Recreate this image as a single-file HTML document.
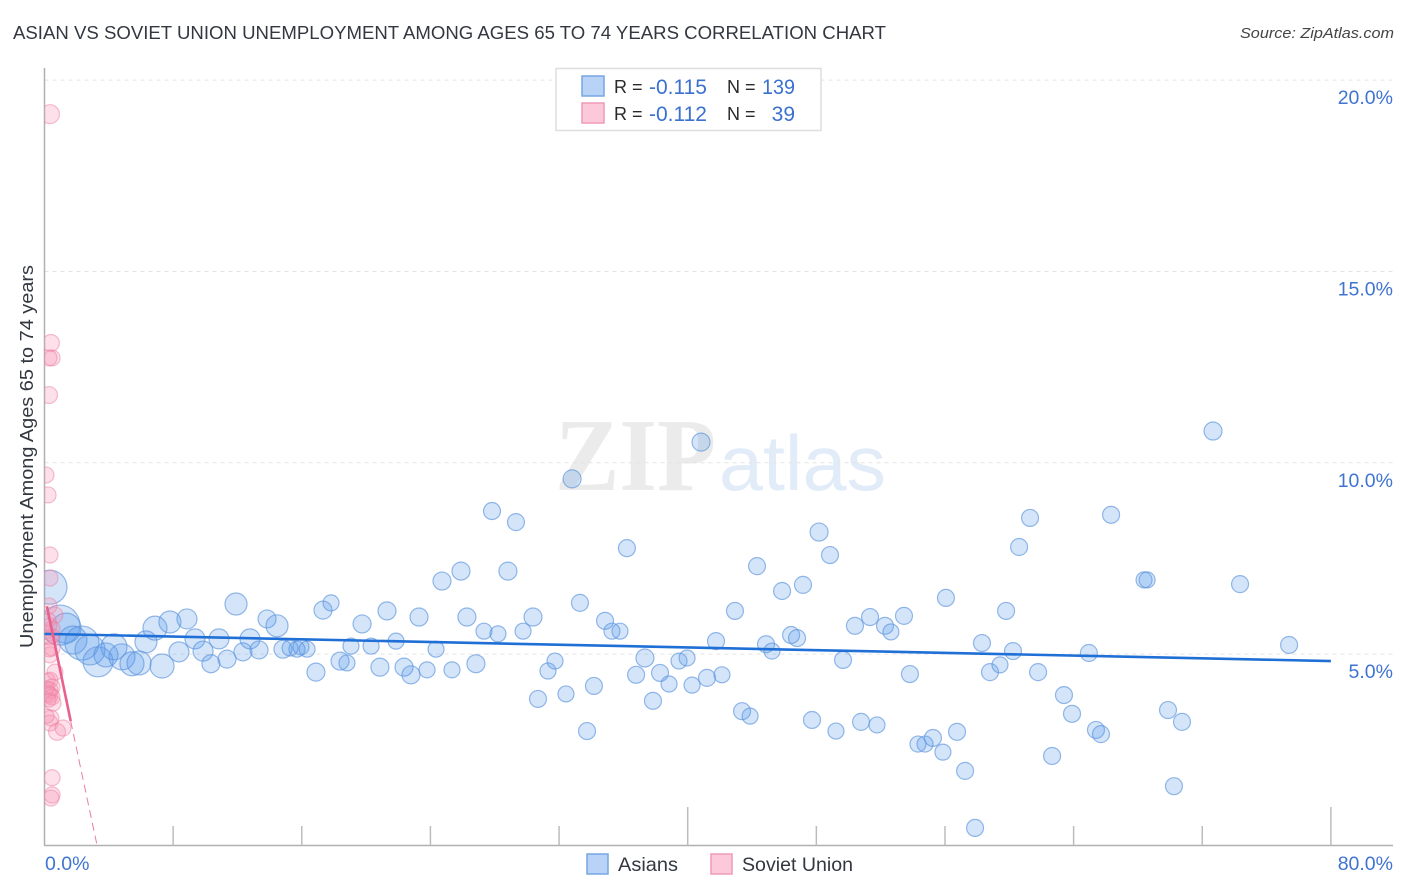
<!DOCTYPE html>
<html lang="en">
<head>
<meta charset="utf-8">
<title>Asian vs Soviet Union Unemployment Correlation Chart</title>
<style>
html,body{margin:0;padding:0;background:#fff;}
svg{display:block;font-family:"Liberation Sans",sans-serif;}
</style>
</head>
<body>
<svg id="chart" width="1406" height="892" viewBox="0 0 1406 892" xmlns="http://www.w3.org/2000/svg">
  <defs><clipPath id="plot-clip"><rect x="44.5" y="60" width="1349" height="785.5"/></clipPath></defs>
  <text x="13" y="39" font-size="18.5" fill="#333840" textLength="873" lengthAdjust="spacingAndGlyphs">ASIAN VS SOVIET UNION UNEMPLOYMENT AMONG AGES 65 TO 74 YEARS CORRELATION CHART</text>
  <text x="1394" y="38" font-size="15" font-style="italic" fill="#444" text-anchor="end" textLength="154" lengthAdjust="spacingAndGlyphs">Source: ZipAtlas.com</text>
  <g>
    <text x="555" y="490" font-family="'Liberation Serif',serif" font-weight="bold" font-size="104" fill="#ebebeb" textLength="161" lengthAdjust="spacingAndGlyphs">ZIP</text>
    <text x="719" y="490" font-size="78" fill="#e2ecf9" textLength="167" lengthAdjust="spacingAndGlyphs">atlas</text>
  </g>
  <g id="grid"></g>
  <g id="axes"></g>
  <g id="points" clip-path="url(#plot-clip)"></g>
  <g id="trends"></g>
  <g id="tick-labels"></g>
  <text transform="translate(33,456.5) rotate(-90)" font-size="18.5" fill="#333840" text-anchor="middle" textLength="383" lengthAdjust="spacingAndGlyphs">Unemployment Among Ages 65 to 74 years</text>
  <g>
    <rect x="556" y="68.5" width="265" height="62" fill="#fff" stroke="#dedede" stroke-width="1.5"/>
    <rect x="582" y="76" width="22" height="20" fill="#b9d3f7" stroke="#78a5e3" stroke-width="1.5"/>
    <rect x="582" y="103" width="22" height="20" fill="#fcc9db" stroke="#f09ab8" stroke-width="1.5"/>
    <text x="614" y="93" font-size="18" fill="#2a2a2a">R =</text>
    <text x="649" y="94" font-size="21" fill="#3a70cf" textLength="58" lengthAdjust="spacingAndGlyphs">-0.115</text>
    <text x="727" y="93" font-size="18" fill="#2a2a2a">N =</text>
    <text x="795" y="94" font-size="21" fill="#3a70cf" text-anchor="end" textLength="33" lengthAdjust="spacingAndGlyphs">139</text>
    <text x="614" y="120" font-size="18" fill="#2a2a2a">R =</text>
    <text x="649" y="121" font-size="21" fill="#3a70cf" textLength="58" lengthAdjust="spacingAndGlyphs">-0.112</text>
    <text x="727" y="120" font-size="18" fill="#2a2a2a">N =</text>
    <text x="795" y="121" font-size="21" fill="#3a70cf" text-anchor="end">39</text>
  </g>
  <g>
    <rect x="587" y="854" width="21" height="20" fill="#b9d3f7" stroke="#78a5e3" stroke-width="1.5"/>
    <text x="618" y="871" font-size="19.5" fill="#333840" textLength="60" lengthAdjust="spacingAndGlyphs">Asians</text>
    <rect x="711" y="854" width="21" height="20" fill="#fcc9db" stroke="#f09ab8" stroke-width="1.5"/>
    <text x="742" y="871" font-size="19.5" fill="#333840" textLength="111" lengthAdjust="spacingAndGlyphs">Soviet Union</text>
  </g>
</svg>
<script>
const xTickValues = [0, 8, 16, 24, 32, 40, 48, 56, 64, 72, 80];
const xTickLabels = ["0.0%", "80.0%"];
const yTickValues = [5, 10, 15, 20];
const yTickLabels = ["5.0%", "10.0%", "15.0%", "20.0%"];

const asianShare = [0.34,0.96,1.34,1.77,2.33,2.83,3.33,3.82,4.32,4.82,5.44,5.88,6.31,6.87,7.31,7.80,8.36,8.86,9.36,9.86,10.35,10.85,11.35,11.91,12.34,12.78,13.34,13.84,14.46,14.83,15.27,15.70,15.95,16.33,16.88,17.32,17.82,18.38,18.81,19.06,19.75,20.31,20.86,21.30,21.86,22.36,22.79,23.29,23.79,24.35,24.72,25.34,25.90,26.27,26.83,27.33,27.83,28.20,28.82,29.32,29.76,30.38,30.69,31.31,31.75,32.43,32.81,33.30,33.74,34.17,34.86,35.29,35.79,36.22,36.79,37.34,37.84,38.28,38.84,39.46,39.96,40.27,40.83,41.20,41.76,42.13,42.94,43.38,43.88,44.31,44.87,45.24,45.87,46.43,46.80,47.17,47.73,48.17,48.85,49.22,49.66,50.40,50.78,51.34,51.77,52.27,52.64,53.45,53.82,54.32,54.76,55.25,55.87,56.06,56.75,57.25,57.87,58.30,58.80,59.42,59.80,60.23,60.61,61.29,61.79,62.66,63.40,63.90,64.95,65.39,65.70,66.33,68.38,68.57,69.87,70.24,70.74,72.67,74.35,77.40];
const asianRate = [6.75,5.76,5.68,5.37,5.29,5.11,4.80,4.98,5.19,4.93,4.75,4.77,5.32,5.68,4.69,5.84,5.06,5.92,5.40,5.08,4.75,5.40,4.87,6.31,5.06,5.40,5.11,5.92,5.74,5.13,5.16,5.13,5.19,5.13,4.53,6.15,6.34,4.82,4.77,5.21,5.79,5.21,4.66,6.13,5.34,4.66,4.46,5.97,4.59,5.13,6.91,4.59,7.17,5.97,4.75,5.60,8.74,5.53,7.17,8.45,5.60,5.97,3.83,4.56,4.82,3.96,9.58,6.34,2.99,4.17,5.87,5.60,5.60,7.77,4.46,4.90,3.78,4.51,4.22,4.82,4.90,4.19,10.54,4.38,5.34,4.46,6.13,3.51,3.38,7.30,5.26,5.08,6.65,5.50,5.42,6.81,3.28,8.19,7.59,2.99,4.85,5.74,3.23,5.97,3.15,5.74,5.58,6.00,4.48,2.65,2.65,2.81,2.44,6.47,2.97,1.95,0.46,5.29,4.53,4.72,6.13,5.08,7.80,8.56,4.53,2.34,3.93,3.44,5.03,3.02,2.91,8.64,6.94,6.94,3.54,1.55,3.23,10.83,6.83,5.24];
const asianPopulation = [289,400,225,196,289,225,225,144,169,169,144,144,121,144,144,121,100,100,100,100,81,100,81,121,81,100,81,81,121,81,64,64,64,64,81,81,64,81,64,64,81,64,81,81,64,81,81,81,64,64,81,64,81,81,81,64,72,64,81,72,64,81,72,64,64,64,81,72,72,72,72,64,64,72,72,81,72,72,64,64,64,64,81,72,72,64,72,72,64,72,72,64,72,72,72,72,72,81,72,64,72,72,72,72,64,72,64,72,72,64,64,72,64,72,72,72,72,72,72,64,72,72,72,72,72,72,72,72,72,72,72,72,64,64,72,72,72,81,72,72];

const sovietShare = [0.34,0.40,0.47,0.28,0.28,0.09,0.22,0.34,0.34,0.28,0.65,0.28,0.47,0.34,0.16,0.53,0.47,0.34,0.65,0.34,0.22,0.47,0.34,0.22,0.34,0.47,0.53,0.28,0.40,0.34,0.16,0.78,1.15,0.47,0.47,0.40,0.16,0.28,0.34];
const sovietRate = [19.11,13.13,12.74,12.74,11.77,9.68,9.16,7.59,6.99,6.26,6.02,5.89,5.66,5.45,5.58,5.47,5.16,4.98,4.53,4.32,4.32,4.14,4.06,3.98,3.93,3.88,3.72,3.80,3.33,3.20,3.38,2.97,3.07,1.77,1.32,1.24,4.12,5.11,5.76];
const sovietPopulation = [90,72,64,64,72,64,64,64,64,64,64,49,64,64,49,49,64,64,64,64,49,64,64,64,64,64,64,49,64,64,49,72,64,64,64,64,49,49,49];

const asianTrendShare = [0, 80];
const asianTrendRate = [5.53, 4.82];
const sovietTrendShare = [0.15, 1.63];
const sovietTrendRate = [6.25, 3.25];
const sovietDashShare = [1.63, 3.27];
const sovietDashRate = [3.25, 0];

const NS = "http://www.w3.org/2000/svg";
const xScale = v => 44.5 + v * 16.08;
const yScale = v => 845.5 - v * 38.27;
const rScale = w => Math.sqrt(w);

function svgEl(parent, tag, attrs, text) {
  const el = document.createElementNS(NS, tag);
  for (const k in attrs) el.setAttribute(k, attrs[k]);
  if (text !== undefined) el.textContent = text;
  parent.appendChild(el);
  return el;
}

const gridG = document.getElementById("grid");
yTickValues.forEach(v => {
  const el = svgEl(gridG, "line", {x1: 44.5, x2: 1393, y1: yScale(v), y2: yScale(v), stroke: "#e3e3e3", "stroke-width": 1, "stroke-dasharray": "4 4"});
  
  
});

const axesG = document.getElementById("axes");
const yAxis = svgEl(axesG, "line", {x1: 44.5, x2: 44.5, y1: 68, y2: 845.5, stroke: "#b0b0b0", "stroke-width": 1.5});


const xAxis = svgEl(axesG, "line", {x1: 44, x2: 1393, y1: 845.5, y2: 845.5, stroke: "#b0b0b0", "stroke-width": 1.5});


xTickValues.slice(1).forEach((v, i) => {
  const top = ((i + 1) % 5 === 0) ? 807 : 826;
  const t = svgEl(axesG, "line", {x1: xScale(v), x2: xScale(v), y1: top, y2: 845.5, stroke: "#bcbcbc", "stroke-width": 1.5});
  
  
});

const labelsG = document.getElementById("tick-labels");
yTickValues.forEach((v, i) => {
  const t = svgEl(labelsG, "text", {x: 1393, y: yScale(v) + 24, "font-size": 19.5, fill: "#3f74d1", "text-anchor": "end"}, yTickLabels[i]);
  
  
});
const x0 = svgEl(labelsG, "text", {x: 45, y: 870, "font-size": 19.5, fill: "#3f74d1"}, xTickLabels[0]);


const x1 = svgEl(labelsG, "text", {x: 1393, y: 870, "font-size": 19.5, fill: "#3f74d1", "text-anchor": "end"}, xTickLabels[1]);



const pointsG = document.getElementById("points");
asianShare.forEach((v, i) => {
  const c = svgEl(pointsG, "circle", {cx: xScale(v), cy: yScale(asianRate[i]), r: rScale(asianPopulation[i]), fill: "#5a9bec", "fill-opacity": 0.26, stroke: "#5c94dc", "stroke-opacity": 0.65, "stroke-width": 1.2});
  
  
});
sovietShare.forEach((v, i) => {
  const c = svgEl(pointsG, "circle", {cx: xScale(v), cy: yScale(sovietRate[i]), r: rScale(sovietPopulation[i]), fill: "#f78fb0", "fill-opacity": 0.28, stroke: "#ec7fa3", "stroke-opacity": 0.5, "stroke-width": 1.2});
  
  
});

const trendsG = document.getElementById("trends");
const blueTrend = svgEl(trendsG, "line", {x1: xScale(asianTrendShare[0]), y1: yScale(asianTrendRate[0]), x2: xScale(asianTrendShare[1]), y2: yScale(asianTrendRate[1]), stroke: "#1f6fd6", "stroke-width": 2.6});


const pinkTrend = svgEl(trendsG, "line", {x1: xScale(sovietTrendShare[0]), y1: yScale(sovietTrendRate[0]), x2: xScale(sovietTrendShare[1]), y2: yScale(sovietTrendRate[1]), stroke: "#e8608e", "stroke-width": 2.6});


const pinkDash = svgEl(trendsG, "line", {x1: xScale(sovietDashShare[0]), y1: yScale(sovietDashRate[0]), x2: xScale(sovietDashShare[1]), y2: yScale(sovietDashRate[1]), stroke: "#ea7ea3", "stroke-width": 1, "stroke-dasharray": "8 5"});


</script>
</body>
</html>
